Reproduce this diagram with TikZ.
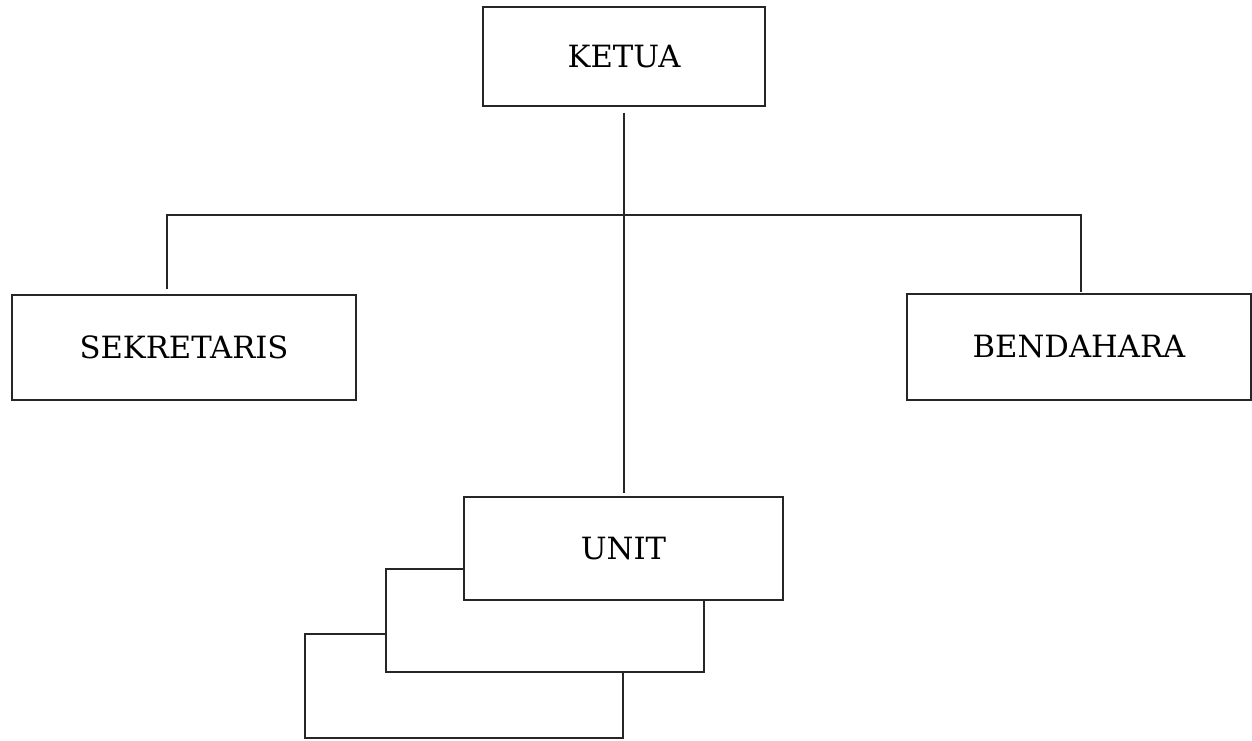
\documentclass[tikz,border=0pt]{standalone}
\usepackage{fontspec}
\setmainfont{DejaVu Serif}
\begin{document}
\begin{tikzpicture}[x=0.75pt,y=-0.75pt,
  box/.style={draw=black!85, line width=0.9pt, fill=white, inner sep=0pt,
    font=\fontsize{23}{27}\selectfont},
  link/.style={draw=black!85, line width=0.9pt}]
\useasboundingbox (0,0) rectangle (1252,740);

% top of the chart
\node[box, minimum width=282*0.75pt, minimum height=99*0.75pt] (ketua) at (624,56.5) {KETUA};

% second level
\node[box, minimum width=344*0.75pt, minimum height=105*0.75pt] (sek) at (184,347.5) {SEKRETARIS};
\node[box, minimum width=344*0.75pt, minimum height=106*0.75pt] (bend) at (1079,347) {BENDAHARA};

% stacked unit boxes, back to front
\node[box, minimum width=318*0.75pt, minimum height=104*0.75pt] (unitc) at (464,686) {};
\node[box, minimum width=318*0.75pt, minimum height=103*0.75pt] (unitb) at (545,620.5) {};
\node[box, minimum width=319*0.75pt, minimum height=103*0.75pt] (unit) at (623.5,548.5) {UNIT};

% connectors
\coordinate (lbar) at (167,215);
\coordinate (rbar) at (1081,215);
\draw[link, shorten <=4.5pt, shorten >=2.2pt] (ketua.south) -- (ketua.south |- unit.north);
\draw[link, shorten <=3.7pt, shorten >=0.8pt] (lbar |- sek.north) -- (lbar) -- (rbar) -- (rbar |- bend.north);
\end{tikzpicture}
\end{document}
